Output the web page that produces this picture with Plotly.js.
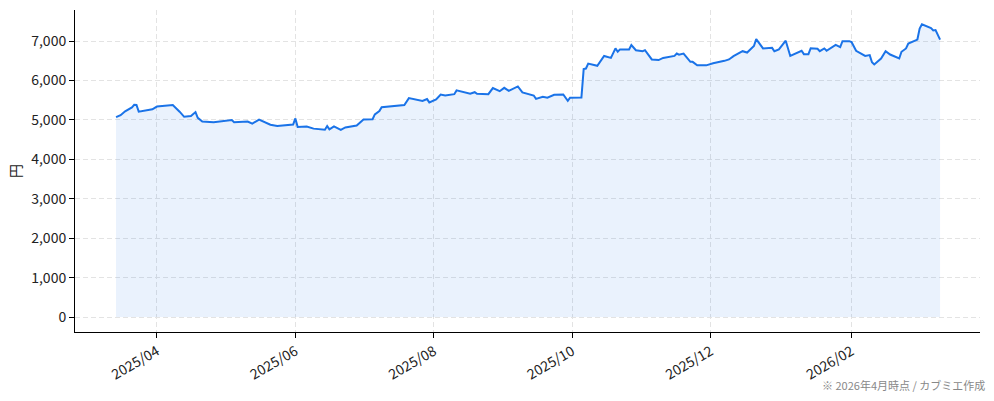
<!DOCTYPE html>
<html>
<head>
<meta charset="utf-8">
<script src="https://cdn.plot.ly/plotly-3.0.1.min.js"></script>
<style>
  html, body { margin: 0; padding: 0; background: #fff; }
  #chart { width: 994px; height: 401px; }
</style>
</head>
<body>
<div id="chart"></div>
<script>
// 株価の推移 (円)
const dates = [
  '2025-03-14', '2025-03-16', '2025-03-18', '2025-03-21', '2025-03-22', '2025-03-23', '2025-03-24', '2025-03-30',
  '2025-04-01', '2025-04-08', '2025-04-11', '2025-04-13', '2025-04-16', '2025-04-18', '2025-04-19', '2025-04-21',
  '2025-04-26', '2025-04-30', '2025-05-04', '2025-05-05', '2025-05-11', '2025-05-13', '2025-05-16', '2025-05-21',
  '2025-05-24', '2025-05-31', '2025-06-01', '2025-06-02', '2025-06-06', '2025-06-09', '2025-06-14', '2025-06-15',
  '2025-06-16', '2025-06-18', '2025-06-21', '2025-06-23', '2025-06-28', '2025-07-01', '2025-07-05', '2025-07-06',
  '2025-07-08', '2025-07-09', '2025-07-13', '2025-07-19', '2025-07-21', '2025-07-23', '2025-07-27', '2025-07-29',
  '2025-07-30', '2025-08-02', '2025-08-04', '2025-08-06', '2025-08-10', '2025-08-11', '2025-08-17', '2025-08-19',
  '2025-08-20', '2025-08-25', '2025-08-27', '2025-08-30', '2025-09-01', '2025-09-03', '2025-09-07', '2025-09-09',
  '2025-09-14', '2025-09-15', '2025-09-18', '2025-09-20', '2025-09-23', '2025-09-27', '2025-09-29', '2025-09-30',
  '2025-10-05', '2025-10-06', '2025-10-07', '2025-10-08', '2025-10-12', '2025-10-15', '2025-10-18', '2025-10-20',
  '2025-10-21', '2025-10-22', '2025-10-26', '2025-10-27', '2025-10-29', '2025-11-01', '2025-11-02', '2025-11-05',
  '2025-11-08', '2025-11-10', '2025-11-15', '2025-11-16', '2025-11-17', '2025-11-19', '2025-11-22', '2025-11-23',
  '2025-11-25', '2025-11-29', '2025-12-02', '2025-12-07', '2025-12-09', '2025-12-11', '2025-12-15', '2025-12-17',
  '2025-12-20', '2025-12-21', '2025-12-24', '2025-12-28', '2025-12-29', '2025-12-31', '2026-01-03', '2026-01-05',
  '2026-01-10', '2026-01-11', '2026-01-13', '2026-01-14', '2026-01-17', '2026-01-18', '2026-01-20', '2026-01-21',
  '2026-01-25', '2026-01-27', '2026-01-28', '2026-01-31', '2026-02-01', '2026-02-03', '2026-02-07', '2026-02-09',
  '2026-02-10', '2026-02-11', '2026-02-14', '2026-02-16', '2026-02-18', '2026-02-22', '2026-02-23', '2026-02-25',
  '2026-02-26', '2026-03-02', '2026-03-03', '2026-03-04', '2026-03-08', '2026-03-09', '2026-03-10', '2026-03-12'
];
const prices = [
  5070, 5120, 5220, 5320, 5385, 5380, 5210, 5270,
  5340, 5380, 5210, 5080, 5100, 5200, 5055, 4960,
  4940, 4970, 5000, 4945, 4960, 4905, 5010, 4880,
  4845, 4885, 5040, 4820, 4835, 4780, 4750, 4845,
  4760, 4835, 4750, 4810, 4860, 5010, 5020, 5140,
  5225, 5325, 5350, 5380, 5555, 5535, 5480, 5530,
  5445, 5520, 5645, 5620, 5655, 5750, 5665, 5705,
  5665, 5655, 5810, 5730, 5815, 5740, 5850, 5700,
  5620, 5535, 5590, 5565, 5640, 5645, 5485, 5565,
  5570, 6290, 6305, 6430, 6375, 6625, 6575, 6815,
  6730, 6790, 6790, 6900, 6770, 6745, 6770, 6535,
  6520, 6575, 6625, 6685, 6655, 6685, 6475, 6475,
  6390, 6385, 6440, 6500, 6535, 6620, 6745, 6710,
  6875, 7050, 6815, 6830, 6745, 6790, 7010, 6625,
  6755, 6670, 6670, 6820, 6805, 6745, 6815, 6755,
  6905, 6850, 7000, 7000, 6975, 6755, 6625, 6645,
  6465, 6410, 6560, 6745, 6660, 6560, 6730, 6815,
  6940, 7040, 7320, 7425, 7330, 7270, 7280, 7040
];

const monthTicks = ['2025-04-01', '2025-06-01', '2025-08-01', '2025-10-01', '2025-12-01', '2026-02-01'];
const monthLabels = ['2025/04', '2025/06', '2025/08', '2025/10', '2025/12', '2026/02'];
const yTicks = [0, 1000, 2000, 3000, 4000, 5000, 6000, 7000];

const lineColor = '#1a73e8';
const baseFont = '"Noto Sans CJK JP", "Noto Sans", sans-serif';

const trace = {
  x: dates,
  y: prices,
  type: 'scatter',
  mode: 'lines',
  fill: 'tozeroy',
  fillcolor: 'rgba(26,115,232,0.09)',
  line: { color: lineColor, width: 2 },
  hoverinfo: 'x+y'
};

const layout = {
  width: 994,
  height: 401,
  margin: { l: 75, r: 14, t: 10, b: 69 },
  paper_bgcolor: '#ffffff',
  plot_bgcolor: '#ffffff',
  font: { family: baseFont, size: 14, color: '#222' },
  showlegend: false,
  xaxis: {
    type: 'date',
    automargin: false,
    range: ['2025-02-23 22:00', '2026-03-29 14:00'],
    tickvals: monthTicks,
    ticktext: monthLabels,
    tickangle: -30,
    ticks: 'outside',
    ticklen: 5,
    tickcolor: '#000',
    showline: true,
    linecolor: '#000',
    linewidth: 1,
    mirror: false,
    showgrid: true,
    gridcolor: '#e3e3e3',
    griddash: '5px,3px',
    gridwidth: 1,
    zeroline: false,
    tickfont: { size: 14, color: '#222' }
  },
  yaxis: {
    automargin: false,
    range: [-380, 7790],
    tickvals: yTicks,
    tickformat: ',d',
    ticks: 'outside',
    ticklen: 5,
    tickcolor: '#000',
    showline: true,
    linecolor: '#000',
    linewidth: 1,
    showgrid: true,
    gridcolor: '#e3e3e3',
    griddash: '5px,3px',
    gridwidth: 1,
    zeroline: false,
    title: { text: '円', font: { size: 14, color: '#222' }, standoff: 6 },
    tickfont: { size: 14, color: '#222' }
  },
  annotations: [
    {
      text: '※ 2026年4月時点 / カブミエ作成',
      xref: 'paper', yref: 'paper',
      x: 1.008, y: -0.165,
      xanchor: 'right', yanchor: 'middle',
      showarrow: false,
      font: { size: 11, color: '#888' }
    }
  ]
};

Plotly.newPlot('chart', [trace], layout, { displayModeBar: false, staticPlot: true });
</script>
</body>
</html>
